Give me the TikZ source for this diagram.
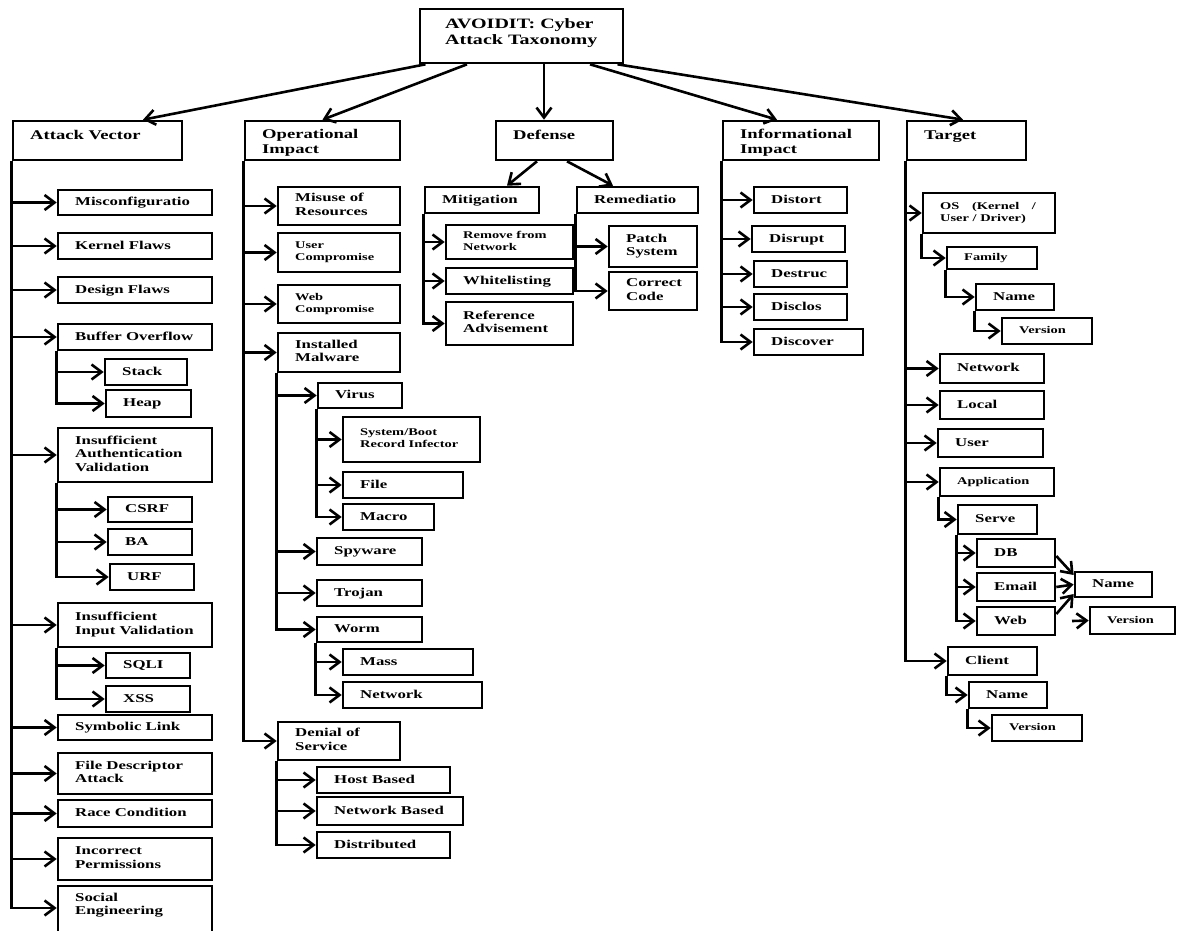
\documentclass[tikz,border=0pt]{standalone}
\usepackage{fontspec}
\setmainfont{Liberation Serif}[FakeStretch=1.40]
\usetikzlibrary{arrows.meta}
\tikzset{
 box/.style={draw, line width=2.6pt, rectangle, inner sep=0pt},
 lbl/.style={inner sep=0pt, align=left, font=\bfseries\fontsize{12}{13.5}\selectfont, execute at begin node=\strut, execute at end node=\strut},
 sm/.style={font=\bfseries\fontsize{10.3}{11.7}\selectfont},
 big/.style={font=\bfseries\fontsize{13.3}{15}\selectfont},
 ttl/.style={font=\bfseries\fontsize{14.3}{16}\selectfont},
 conn/.style={draw, line width=2.6pt, -{Straight Barb[length=10pt,width=15pt]}},
}
% box: name, x1, y1, x2, y2, label style, text
\newcommand\bx[7]{%
 \node[box, minimum width={(#4-#2)*1pt}, minimum height={(#5-#3)*1pt}] (#1) at ({(#2+#4)/2},{(#3+#5)/2}) {};
 \node[lbl,#6,anchor=west] (#1t) at ({#2+17},{(#3+#5)/2+0.5}) {#7};}
% top-level box, text at top
\newcommand\bxl[6]{%
 \node[box, minimum width={(#4-#2)*1pt}, minimum height={(#5-#3)*1pt}] (#1) at ({(#2+#4)/2},{(#3+#5)/2}) {};
 \node[lbl,big,anchor=north west] (#1t) at ({#2+17},{#3+8}) {#6};}
\begin{document}
\begin{tikzpicture}[x=1pt,y=-1pt]
\useasboundingbox (0,0) rectangle (1177,930);
\fill[white] (0,0) rectangle (1177,930);

% root
\node[box, minimum width=203pt, minimum height=54pt] (root) at (521.5,36) {};
\node[lbl,ttl,anchor=west] (roott) at (445,34) {AVOIDIT: Cyber\\Attack Taxonomy};

% level 1
\bxl{av}{13}{121}{182}{160}{Attack Vector}
\bxl{oi}{245}{121}{400}{160}{Operational\\Impact}
\bxl{def}{496}{121}{613}{160}{Defense}
\bxl{ii}{723}{121}{879}{160}{Informational\\Impact}
\bxl{tg}{907}{121}{1026}{160}{Target}

\draw[conn] ([xshift=-96pt]root.south) -- ([xshift=45.5pt]av.north);
\draw[conn] ([xshift=-54.5pt]root.south) -- (oi.north);
\draw[conn] ([xshift=22.5pt]root.south) -- ([xshift=-10.5pt]def.north);
\draw[conn] ([xshift=68.5pt]root.south) -- ([xshift=-24pt]ii.north);
\draw[conn] ([xshift=96pt]root.south) -- ([xshift=-3.5pt]tg.north);

% ---------- Attack Vector ----------
\bx{mis}{58}{190}{212}{215}{}{Misconfiguratio}
\bx{ker}{58}{233}{212}{259}{}{Kernel Flaws}
\bx{des}{58}{277}{212}{303}{}{Design Flaws}
\bx{buf}{58}{324}{212}{350}{}{Buffer Overflow}
\bx{stk}{105}{359}{187}{385}{}{Stack}
\bx{hep}{106}{390}{191}{417}{}{Heap}
\bx{iav}{58}{428}{212}{482}{}{Insufficient\\Authentication\\Validation}
\bx{csrf}{108}{497}{192}{522}{}{CSRF}
\bx{ba}{108}{529}{192}{555}{}{BA}
\bx{urf}{110}{564}{194}{590}{}{URF}
\bx{iiv}{58}{603}{212}{647}{}{Insufficient\\Input Validation}
\bx{sqli}{106}{653}{190}{678}{}{SQLI}
\bx{xss}{106}{686}{190}{712}{}{XSS}
\bx{sym}{58}{715}{212}{740}{}{Symbolic Link}
\bx{fda}{58}{753}{212}{794}{}{File Descriptor\\Attack}
\bx{rc}{58}{800}{212}{827}{}{Race Condition}
\bx{ip}{58}{838}{212}{880}{}{Incorrect\\Permissions}
\node[box, minimum width=154pt, minimum height=50pt] (se) at (135,911) {};
\node[lbl,anchor=west] (set) at (75,906) {Social\\Engineering};

\foreach \c in {mis,ker,des,buf,iav,iiv,sym,fda,rc,ip}
  \draw[conn] (av.south west) |- (\c.west);
\draw[conn] (av.south west) |- ([yshift=3pt]se.west);
\foreach \c in {stk,hep} \draw[conn] (buf.south west) |- (\c.west);
\foreach \c in {csrf,ba,urf} \draw[conn] (iav.south west) |- (\c.west);
\foreach \c in {sqli,xss} \draw[conn] (iiv.south west) |- (\c.west);

% ---------- Operational Impact ----------
\bx{mor}{278}{187}{400}{225}{}{Misuse of\\Resources}
\bx{uc}{278}{233}{400}{272}{sm}{User\\Compromise}
\bx{wc}{278}{285}{400}{323}{sm}{Web\\Compromise}
\bx{im}{278}{333}{400}{372}{}{Installed\\Malware}
\bx{vir}{318}{383}{402}{408}{}{Virus}
\bx{sbr}{343}{417}{480}{462}{sm}{System/Boot\\Record Infector}
\bx{fil}{343}{472}{463}{498}{}{File}
\bx{mac}{343}{504}{434}{530}{}{Macro}
\bx{spy}{317}{538}{422}{565}{}{Spyware}
\bx{tro}{317}{580}{422}{606}{}{Trojan}
\bx{wor}{317}{617}{422}{642}{}{Worm}
\bx{mas}{343}{649}{473}{675}{}{Mass}
\bx{onet}{343}{682}{482}{708}{}{Network}
\bx{dos}{278}{722}{400}{760}{}{Denial of\\Service}
\bx{hb}{317}{767}{450}{793}{}{Host Based}
\bx{nb}{317}{797}{463}{825}{}{Network Based}
\bx{dis}{317}{832}{450}{858}{}{Distributed}

\foreach \c in {mor,uc,wc,im,dos} \draw[conn] (oi.south west) |- (\c.west);
\foreach \c in {vir,spy,tro,wor} \draw[conn] (im.south west) |- (\c.west);
\foreach \c in {sbr,fil,mac} \draw[conn] (vir.south west) |- (\c.west);
\foreach \c in {mas,onet} \draw[conn] (wor.south west) |- (\c.west);
\foreach \c in {hb,nb,dis} \draw[conn] (dos.south west) |- (\c.west);

% ---------- Defense ----------
\bx{mit}{425}{187}{539}{213}{}{Mitigation}
\bx{rfn}{446}{225}{573}{259}{sm}{Remove from\\Network}
\bx{wl}{446}{268}{573}{294}{}{Whitelisting}
\bx{ra}{446}{302}{573}{345}{}{Reference\\Advisement}
\bx{rem}{577}{187}{698}{213}{}{Remediatio}
\bx{ps}{609}{226}{697}{267}{}{Patch\\System}
\bx{cc}{609}{272}{697}{310}{}{Correct\\Code}

\draw[conn] ([xshift=-17.5pt]def.south) -- ([xshift=25pt]mit.north);
\draw[conn] ([xshift=12.5pt]def.south) -- ([xshift=-24.5pt]rem.north);
\foreach \c in {rfn,wl,ra} \draw[conn] (mit.south west) |- (\c.west);
\foreach \c in {ps,cc} \draw[conn] (rem.south west) |- (\c.west);

% ---------- Informational Impact ----------
\bx{dst}{754}{187}{847}{213}{}{Distort}
\bx{dsr}{752}{226}{845}{252}{}{Disrupt}
\bx{dsc}{754}{261}{847}{287}{}{Destruc}
\bx{dcl}{754}{294}{847}{320}{}{Disclos}
\bx{dcv}{754}{329}{863}{355}{}{Discover}
\foreach \c in {dst,dsr,dsc,dcl,dcv} \draw[conn] (ii.south west) |- (\c.west);

% ---------- Target ----------
\bx{os}{923}{193}{1055}{233}{sm}{OS\hspace{9pt} (Kernel\hspace{9pt} /\\User / Driver)}
\bx{fam}{947}{247}{1037}{269}{sm}{Family}
\bx{nma}{976}{284}{1054}{310}{}{Name}
\bx{vra}{1002}{318}{1092}{344}{sm}{Version}
\bx{tnet}{940}{354}{1044}{383}{}{Network}
\bx{loc}{940}{391}{1044}{419}{}{Local}
\bx{usr}{938}{429}{1043}{457}{}{User}
\bx{app}{940}{468}{1054}{496}{sm}{Application}
\bx{srv}{958}{505}{1037}{534}{}{Serve}
\bx{db}{977}{539}{1055}{567}{}{DB}
\bx{eml}{977}{573}{1055}{601}{}{Email}
\bx{web}{977}{607}{1055}{635}{}{Web}
\bx{nmr}{1075}{572}{1152}{597}{}{Name}
\bx{vrr}{1090}{607}{1175}{634}{sm}{Version}
\bx{cli}{948}{647}{1037}{675}{}{Client}
\bx{nmc}{969}{682}{1047}{708}{}{Name}
\bx{vrc}{992}{715}{1082}{741}{sm}{Version}

\foreach \c in {os,tnet,loc,usr,app,cli} \draw[conn] (tg.south west) |- (\c.west);
\draw[conn] (os.south west) |- (fam.west);
\draw[conn] (fam.south west) |- (nma.west);
\draw[conn] (nma.south west) |- (vra.west);
\draw[conn] (app.south west) |- (srv.west);
\foreach \c in {db,eml,web} \draw[conn] (srv.south west) |- (\c.west);
\draw[conn] ([yshift=-3pt]db.east) -- ([yshift=9.5pt]nmr.west);
\draw[conn] (eml.east) -- (nmr.west);
\draw[conn] ([yshift=7pt]web.east) -- ([yshift=-9.5pt]nmr.west);
\coordinate (vs) at (1072,621);
\draw[conn] (vs) -- (vrr.west);
\draw[conn] (cli.south west) |- (nmc.west);
\draw[conn] (nmc.south west) |- (vrc.west);
\end{tikzpicture}
\end{document}
